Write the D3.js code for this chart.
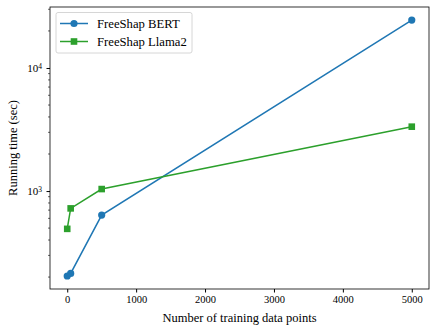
<!DOCTYPE html>
<html>
<head>
<meta charset="utf-8">
<script src="https://cdn.jsdelivr.net/npm/d3@7"></script>
<style>
body { margin: 0; background: #fff; }
svg text { font-family: "Liberation Serif", "Times New Roman", "DejaVu Serif", serif; fill: #000; }
</style>
</head>
<body>
<svg id="mainSvg" width="436" height="333"></svg>
<script>
// data
var trainSizes = [0, 50, 500, 5000];
var bertTimes = [204, 214, 638, 24500];
var llamaTimes = [493, 723, 1038, 3335];
var seriesNames = ["FreeShap BERT", "FreeShap Llama2"];
var xTicks = [0, 1000, 2000, 3000, 4000, 5000];
var yMajorTicks = [1000, 10000];

var margin = {top: 7, right: 7, bottom: 44, left: 50},
    width = 436 - margin.left - margin.right,
    height = 333 - margin.top - margin.bottom;

var x = d3.scaleLinear().domain([-250, 5250]).range([0, width]);
var y = d3.scaleLog().domain([160, 31300]).range([height, 0]);

var svg = d3.select("#mainSvg");
var g = svg.append("g").attr("transform", "translate(" + margin.left + "," + margin.top + ")");

// x axis
var xAxis = g.append("g")
    .attr("transform", "translate(0," + height + ")")
    .call(d3.axisBottom(x).tickValues(xTicks).tickSize(3.5).tickPadding(3).tickFormat(d3.format("d")));
xAxis.select(".domain").remove();
xAxis.attr("font-family", null).attr("font-size", null);
xAxis.selectAll("text").style("font-size", "10.5px");

// y axis, major
var yAxis = g.append("g")
    .call(d3.axisLeft(y).tickValues(yMajorTicks).tickSize(3.5).tickPadding(3.5).tickFormat(""));
yAxis.select(".domain").remove();
yAxis.attr("font-family", null).attr("font-size", null);
yAxis.selectAll(".tick").each(function(d) {
  var t = d3.select(this).append("text")
    .attr("x", -8).attr("dy", "0.35em")
    .attr("text-anchor", "end")
    .style("font-size", "11px");
  t.append("tspan").text("10");
  t.append("tspan").attr("dy", "-0.45em").style("font-size", "7.5px").text(Math.round(Math.log10(d)));
});

// y minor ticks
var minors = [];
[100, 1000, 10000].forEach(function(dec) {
  for (var k = 2; k <= 9; k++) {
    var v = dec * k;
    if (v >= y.domain()[0] && v <= y.domain()[1]) minors.push(v);
  }
});
g.append("g").selectAll("line").data(minors).enter().append("line")
  .attr("x1", -2).attr("x2", 0)
  .attr("y1", function(d) { return y(d); })
  .attr("y2", function(d) { return y(d); })
  .attr("stroke", "#000").attr("stroke-width", 0.6);

// frame
g.append("rect").attr("width", width).attr("height", height)
  .attr("fill", "none").attr("stroke", "#000").attr("stroke-width", 0.8);

// axis labels
g.append("text")
  .attr("x", width / 2).attr("y", height + 33)
  .attr("text-anchor", "middle").style("font-size", "12.5px")
  .text("Number of training data points");
g.append("text")
  .attr("transform", "rotate(-90)")
  .attr("x", -height / 2).attr("y", -33)
  .attr("text-anchor", "middle").style("font-size", "12.5px")
  .text("Running time (sec)");

var colors = ["#1f77b4", "#2ca02c"];
var series = [bertTimes, llamaTimes];
var line = d3.line()
  .x(function(d, i) { return x(trainSizes[i]); })
  .y(function(d) { return y(d); });

series.forEach(function(s, si) {
  g.append("path").datum(s)
    .attr("d", line).attr("fill", "none")
    .attr("stroke", colors[si]).attr("stroke-width", 1.5);
  if (si == 0) {
    g.selectAll(".pt0").data(s).enter().append("circle")
      .attr("cx", function(d, i) { return x(trainSizes[i]); })
      .attr("cy", function(d) { return y(d); })
      .attr("r", 3.6).attr("fill", colors[si]);
  } else {
    g.selectAll(".pt1").data(s).enter().append("rect")
      .attr("x", function(d, i) { return x(trainSizes[i]) - 3.3; })
      .attr("y", function(d) { return y(d) - 3.3; })
      .attr("width", 6.6).attr("height", 6.6).attr("fill", colors[si]);
  }
});

// legend
var lg = g.append("g").attr("transform", "translate(6,5.5)");
lg.append("rect").attr("width", 136).attr("height", 40.5).attr("rx", 2)
  .attr("fill", "#fff").attr("fill-opacity", 0.8)
  .attr("stroke", "#ccc").attr("stroke-width", 0.8);
seriesNames.forEach(function(name, i) {
  var row = lg.append("g").attr("transform", "translate(0," + (11 + i * 18) + ")");
  row.append("line").attr("x1", 4).attr("x2", 32).attr("stroke", colors[i]).attr("stroke-width", 1.5);
  if (i == 0) row.append("circle").attr("cx", 18).attr("r", 3.6).attr("fill", colors[i]);
  else row.append("rect").attr("x", 14.7).attr("y", -3.3).attr("width", 6.6).attr("height", 6.6).attr("fill", colors[i]);
  row.append("text").attr("x", 41).attr("dy", "0.35em").style("font-size", "12.7px").text(name);
});
</script>
</body>
</html>
